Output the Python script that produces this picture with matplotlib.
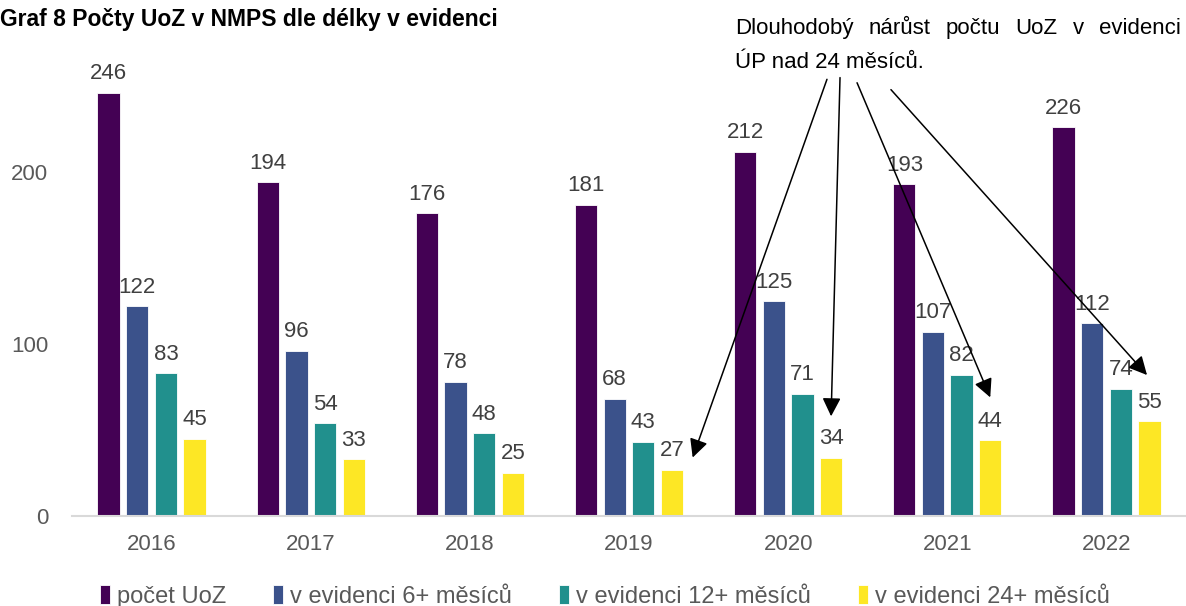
import matplotlib
matplotlib.use('agg')
import matplotlib.pyplot as plt
import numpy as np

plt.rcParams['font.family'] = ['Liberation Sans', 'DejaVu Sans']

years = ['2016', '2017', '2018', '2019', '2020', '2021', '2022']
pocet_uoz = [246, 194, 176, 181, 212, 193, 226]
evid_6 = [122, 96, 78, 68, 125, 107, 112]
evid_12 = [83, 54, 48, 43, 71, 82, 74]
evid_24 = [45, 33, 25, 27, 34, 44, 55]
series_names = ['počet UoZ', 'v evidenci 6+ měsíců', 'v evidenci 12+ měsíců',
                'v evidenci 24+ měsíců']
colors = ['#440154', '#3B528B', '#21908D', '#FDE725']

# arrows from the note to the 24+ bars of 2019-2022
arrow_starts = [(4.244, 254), (4.326, 255), (4.433, 252), (4.646, 248)]
arrow_ends = [(3.40, 34), (4.27, 58), (5.27, 69), (6.255, 82)]

label_col = '#404040'
fs = 16

fig = plt.figure(figsize=(11.86, 6.06), dpi=100)
ax = fig.add_axes([72 / 1186, 1 - 516 / 606, 1 - 72 / 1186, (516 - 69) / 606])

x = np.arange(len(years))
width = 0.14
step = 0.18
all_series = [pocet_uoz, evid_6, evid_12, evid_24]
for k, vals in enumerate(all_series):
    pos = x + (k - 1.5) * step
    ax.bar(pos, vals, width, color=colors[k], label=series_names[k],
           edgecolor='white', linewidth=0.6)
    for p, v in zip(pos, vals):
        ax.text(p, v + 5, str(v), ha='center', va='bottom', fontsize=fs,
                color=label_col)

ax.set_xlim(-0.5, 6.5)
ax.set_ylim(0, 260)
ax.set_xticks(x)
ax.set_xticklabels(years)
ax.set_yticks([0, 100, 200])
ax.tick_params(axis='both', length=0, labelsize=fs, labelcolor='#595959')
ax.tick_params(axis='x', pad=13)
ax.tick_params(axis='y', pad=17)
for s in ['top', 'right', 'left']:
    ax.spines[s].set_visible(False)
ax.spines['bottom'].set_color('#D9D9D9')
ax.spines['bottom'].set_linewidth(1.5)

for (sx, sy), (ex, ey) in zip(arrow_starts, arrow_ends):
    ax.annotate('', xy=(ex, ey), xytext=(sx, sy), annotation_clip=False,
                arrowprops=dict(arrowstyle='-|>', color='black', lw=1.1,
                                mutation_scale=28, shrinkA=0, shrinkB=0))

fig.text(0.0, 0.986, 'Graf 8 Počty UoZ v NMPS dle délky v evidenci',
         fontsize=16.5, fontweight='bold', ha='left', va='top', color='black')

# justified first line of the note
renderer = fig.canvas.get_renderer()
words = 'Dlouhodobý nárůst počtu UoZ v evidenci'.split()
left_px, right_px = 735, 1181
texts = [fig.text(0, 0, w, fontsize=fs, va='baseline') for w in words]
widths = [t.get_window_extent(renderer).width for t in texts]
gap = (right_px - left_px - sum(widths)) / (len(words) - 1)
cur = left_px
for t, w in zip(texts, widths):
    t.set_position((cur / 1186, 1 - 34 / 606))
    cur += w + gap
fig.text(left_px / 1186, 1 - 68 / 606, 'ÚP nad 24 měsíců.', fontsize=fs,
         va='baseline')

leg = fig.legend(loc='lower center', bbox_to_anchor=(0.51, -0.038), ncol=4,
                 frameon=False, fontsize=17, handlelength=0.42,
                 handleheight=0.9, handletextpad=0.3, columnspacing=2.0)
for t in leg.get_texts():
    t.set_color('#595959')

fig.savefig('out.png', dpi=100)
